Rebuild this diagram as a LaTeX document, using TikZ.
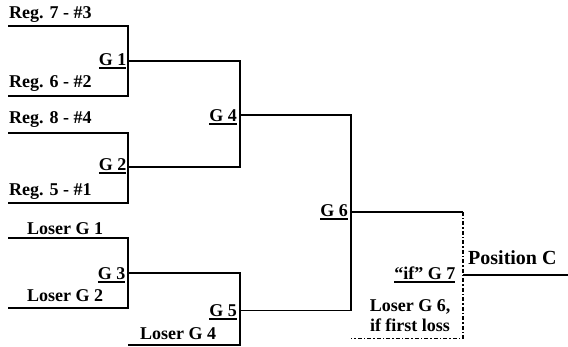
\documentclass[tikz,border=0pt]{standalone}
\usepackage{fontspec}
\setmainfont{Liberation Serif}
\newcommand{\gul}[1]{\vtop{\hbox{#1}\kern1.2pt\hrule height 2pt}}
\begin{document}
\begin{tikzpicture}[x=1pt,y=-1pt,
  lab/.style={font=\fontsize{18}{20}\selectfont\bfseries, inner sep=0pt},
  ent/.style={lab, anchor=base west},
  game/.style={lab, anchor=base east},
  wire/.style={draw=black, line width=1.1pt},
  dashwire/.style={draw=black, line width=1.2pt, dash pattern=on 4pt off 2pt on 1.5pt off 2pt}]
\useasboundingbox (0,0) rectangle (568,347);
% coordinates
\coordinate (e1) at (8,26);
\coordinate (e2) at (8,96);
\coordinate (e3) at (8,133);
\coordinate (e4) at (8,203);
\coordinate (e5) at (8,238);
\coordinate (e6) at (8,308);
\coordinate (e7) at (128,345);
\coordinate (g1) at (128,61);
\coordinate (g2) at (128,167);
\coordinate (g3) at (128,273);
\coordinate (g4) at (240,115);
\coordinate (g5) at (240,310.5);
\coordinate (g6) at (351,212);
\coordinate (g7t) at (463,212);
\coordinate (g7) at (463,275);
\coordinate (e8) at (351,338.5);
\coordinate (out) at (568,275);
% brackets
\draw[wire] (e1) -| (g1) |- (e2);
\draw[wire] (e3) -| (g2) |- (e4);
\draw[wire] (e5) -| (g3) |- (e6);
\draw[wire] (g1) -| (g4) |- (g2);
\draw[wire] (g3) -| (g5) |- (e7);
\draw[wire] (g4) -| (g6) |- (g5);
\draw[wire] (g6) -- (g7t);
\draw[dashwire] (g7t) |- (e8);
\draw[wire] (g7) -- (out);
% labels
\node[ent] (t7) at (9,19) {Reg. 7 - \#3};
\node[ent] (t6) at (9,87.5) {Reg. 6 - \#2};
\node[ent] (t8) at (9,124) {Reg. 8 - \#4};
\node[ent] (t5) at (9,195.5) {Reg. 5 - \#1};
\node[ent] (tl1) at (27,235) {Loser G 1};
\node[ent] (tl2) at (27,301.5) {Loser G 2};
\node[ent] (tl4) at (140,340) {Loser G 4};
\node[game] (n1) at (126.5,66) {\gul{G 1}};
\node[game] (n2) at (126.5,170.5) {\gul{G 2}};
\node[game] (n3) at (125.5,279.5) {\gul{G 3}};
\node[game] (n4) at (237,121.5) {\gul{G 4}};
\node[game] (n5) at (237,316.5) {\gul{G 5}};
\node[game] (n6) at (348,216.5) {\gul{G 6}};
\node[game] (n7) at (455.5,279.5) {\gul{“if” G 7}};
\node[lab, align=center, anchor=base] (lg6) at (410,331.5) {Loser G 6,\\if first loss};
\node[lab, font=\fontsize{20}{22}\selectfont\bfseries, anchor=base west] (pc) at (468,264.5) {Position C};
\end{tikzpicture}
\end{document}
